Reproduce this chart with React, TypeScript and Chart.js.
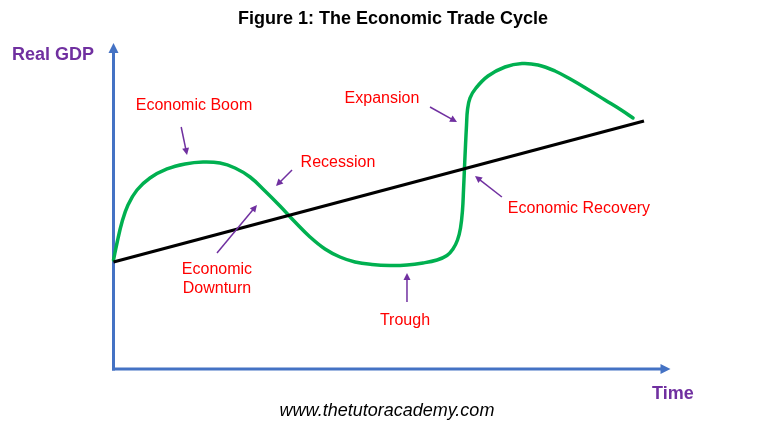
import React, { useEffect, useRef } from "react";
import { Chart, registerables } from "chart.js";

Chart.register(...registerables);

// Green "real GDP" trade-cycle curve (x = time, y = real GDP, arbitrary units 0-100)
const cycleX = [0, 0.63, 1.53, 2.6, 4.22, 6.55, 9.61, 12.84, 16.07, 19.12, 21.81, 24.51, 27.2, 29.89, 32.59, 35.28, 37.97, 40.66, 43.36, 46.41, 49.64, 52.69, 55.57, 58.08, 59.87, 60.95, 61.76, 62.3, 62.66, 62.84, 63.02, 63.2, 63.38, 63.55, 64.0, 65.08, 67.24, 70.29, 73.34, 76.21, 79.26, 82.32, 85.19, 88.24, 91.29, 93.27];
const cycleY = [33.54, 38.77, 45.23, 50.46, 55.08, 58.77, 61.54, 63.08, 63.69, 63.38, 61.85, 59.08, 54.77, 50.15, 45.23, 40.62, 36.92, 34.46, 32.92, 32.15, 31.85, 32.0, 32.62, 33.54, 34.92, 36.92, 39.69, 43.38, 48.92, 55.08, 62.15, 68.92, 75.08, 79.69, 83.38, 86.46, 90.15, 92.92, 94.0, 93.54, 91.69, 88.92, 86.0, 82.77, 79.54, 77.23];

// Black long-run trend line
const trendX = [0, 95.24];
const trendY = [32.92, 76.31];

// Annotation labels (text lines) and where they sit / point to, in data units
const labelTexts = [["Economic Boom"], ["Recession"], ["Economic", "Downturn"], ["Trough"], ["Expansion"], ["Economic Recovery"]];
const labelX = [14.45, 40.3, 18.58, 52.33, 48.2, 83.57];
const labelY = [81.0, 63.4, 30.5, 14.8, 83.1, 49.3];
const arrowFromX = [12.15, 32.05, 18.58, 52.69, 56.82, 69.73];
const arrowFromY = [74.46, 61.23, 35.69, 20.62, 80.62, 52.92];
const arrowToX = [13.2, 29.17, 25.76, 52.69, 61.67, 64.9];
const arrowToY = [65.85, 56.31, 50.46, 29.54, 76.0, 59.38];

const FONT = "'Liberation Sans', Arial, sans-serif";
const AXIS_BLUE = "#4472c4";
const PURPLE = "#7030a0";

function arrowHead(ctx: CanvasRenderingContext2D, x1: number, y1: number, x2: number, y2: number, len: number, half: number) {
  const a = Math.atan2(y2 - y1, x2 - x1);
  ctx.beginPath();
  ctx.moveTo(x2, y2);
  ctx.lineTo(x2 - len * Math.cos(a) + half * Math.sin(a), y2 - len * Math.sin(a) - half * Math.cos(a));
  ctx.lineTo(x2 - len * Math.cos(a) - half * Math.sin(a), y2 - len * Math.sin(a) + half * Math.cos(a));
  ctx.closePath();
  ctx.fill();
}

const axesPlugin = {
  id: "axesPlugin",
  beforeDatasetsDraw(chart: any) {
    const ctx = chart.ctx as CanvasRenderingContext2D;
    const xs = chart.scales.x;
    const ys = chart.scales.y;
    const x0 = xs.getPixelForValue(0);
    const y0 = ys.getPixelForValue(0);
    const yTop = ys.getPixelForValue(100.3);
    const xEnd = xs.getPixelForValue(100);
    ctx.save();
    ctx.strokeStyle = AXIS_BLUE;
    ctx.fillStyle = AXIS_BLUE;
    ctx.lineWidth = 3;
    ctx.beginPath();
    ctx.moveTo(x0, y0 + 1.5);
    ctx.lineTo(x0, yTop + 8);
    ctx.stroke();
    arrowHead(ctx, x0, y0, x0, yTop, 10, 5);
    ctx.beginPath();
    ctx.moveTo(x0 - 1.5, y0);
    ctx.lineTo(xEnd - 8, y0);
    ctx.stroke();
    arrowHead(ctx, x0, y0, xEnd, y0, 10, 5);
    ctx.restore();
  },
  afterDatasetsDraw(chart: any) {
    const ctx = chart.ctx as CanvasRenderingContext2D;
    const xs = chart.scales.x;
    const ys = chart.scales.y;
    ctx.save();
    // arrows
    ctx.strokeStyle = PURPLE;
    ctx.fillStyle = PURPLE;
    ctx.lineWidth = 1.5;
    for (let i = 0; i < arrowFromX.length; i++) {
      const ax = xs.getPixelForValue(arrowFromX[i]);
      const ay = ys.getPixelForValue(arrowFromY[i]);
      const bx = xs.getPixelForValue(arrowToX[i]);
      const by = ys.getPixelForValue(arrowToY[i]);
      const a = Math.atan2(by - ay, bx - ax);
      ctx.beginPath();
      ctx.moveTo(ax, ay);
      ctx.lineTo(bx - 5 * Math.cos(a), by - 5 * Math.sin(a));
      ctx.stroke();
      arrowHead(ctx, ax, ay, bx, by, 7, 3.5);
    }
    // labels
    ctx.fillStyle = "#ff0000";
    ctx.font = `16px ${FONT}`;
    ctx.textAlign = "center";
    ctx.textBaseline = "middle";
    for (let i = 0; i < labelTexts.length; i++) {
      const lx = xs.getPixelForValue(labelX[i]);
      const ly = ys.getPixelForValue(labelY[i]);
      labelTexts[i].forEach((t, j) => ctx.fillText(t, lx, ly + j * 19));
    }
    // title, axis labels, footer
    ctx.fillStyle = "#000000";
    ctx.font = `bold 18px ${FONT}`;
    ctx.fillText("Figure 1: The Economic Trade Cycle", 393, 19);
    ctx.fillStyle = PURPLE;
    ctx.textAlign = "left";
    ctx.fillText("Real GDP", 12, 55);
    ctx.fillText("Time", 652, 394);
    ctx.fillStyle = "#000000";
    ctx.textAlign = "center";
    ctx.font = `italic 18px ${FONT}`;
    ctx.fillText("www.thetutoracademy.com", 387, 411);
    ctx.restore();
  },
};

export default function App() {
  const ref = useRef<HTMLCanvasElement>(null);
  useEffect(() => {
    if (!ref.current) return;
    const chart = new Chart(ref.current, {
      type: "line",
      data: {
        datasets: [
          {
            label: "Trend",
            data: trendX.map((x, i) => ({ x, y: trendY[i] })),
            borderColor: "#000000",
            borderWidth: 3.2,
            pointRadius: 0,
            tension: 0,
            clip: false as any,
          },
          {
            label: "Real GDP",
            data: cycleX.map((x, i) => ({ x, y: cycleY[i] })),
            borderColor: "#00b050",
            borderWidth: 3.5,
            pointRadius: 0,
            tension: 0.4,
            borderJoinStyle: "round",
            borderCapStyle: "round",
            clip: false as any,
          },
        ],
      },
      options: {
        responsive: false,
        animation: false,
        devicePixelRatio: 1,
        layout: { padding: { left: 113.5, right: 97.5, top: 44, bottom: 62 } },
        scales: {
          x: { type: "linear", min: 0, max: 100, display: false },
          y: { type: "linear", min: 0, max: 100, display: false },
        },
        plugins: { legend: { display: false }, tooltip: { enabled: false }, title: { display: false } },
      },
      plugins: [axesPlugin],
    });
    return () => chart.destroy();
  }, []);
  return (
    <div style={{ position: "fixed", left: 0, top: 0, width: 768, height: 431, background: "#ffffff" }}>
      <canvas ref={ref} width={768} height={431} style={{ display: "block" }} />
    </div>
  );
}
